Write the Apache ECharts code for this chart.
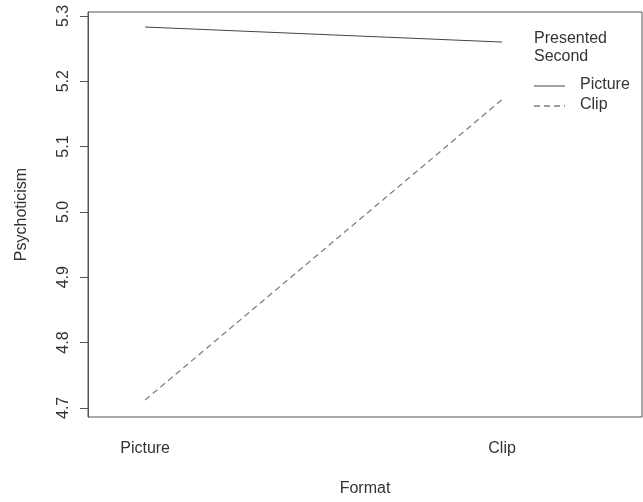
<!DOCTYPE html>
<html>
<head>
<meta charset="utf-8">
<script src="https://cdn.jsdelivr.net/npm/echarts@6/dist/echarts.min.js"></script>
<style>html,body{margin:0;padding:0;background:#fff}#c{width:643px;height:502px}</style>
</head>
<body>
<div id="c"></div>
<script>
const categories = ['Picture', 'Clip'];
const seriesNames = ['Picture', 'Clip'];
const legendTitle = 'Presented\nSecond';
const picturePresentedSecond = [5.283, 5.260];
const clipPresentedSecond = [4.712, 5.172];
const yTicks = [4.7, 4.8, 4.9, 5.0, 5.1, 5.2, 5.3];

const chart = echarts.init(document.getElementById('c'));
const font = 'Liberation Sans, Arial, sans-serif';
const toPairs = vals => vals.map((v, i) => [i + 1, v]);
const lineStyles = [
  {color: '#444', width: 1, type: 'solid'},
  {color: '#808080', width: 1.3, type: [6, 4]}
];
const legendGraphics = [
  {type: 'text', left: 534, top: 30, style: {text: legendTitle, font: '16px ' + font, fill: '#333', lineHeight: 18}}
];
seriesNames.forEach((n, i) => {
  const y = 86 + i * 20;
  legendGraphics.push({type: 'line', shape: {x1: 534, y1: y, x2: 565, y2: y}, style: {stroke: lineStyles[i].color, lineWidth: lineStyles[i].width, lineDash: Array.isArray(lineStyles[i].type) ? lineStyles[i].type : null}});
  legendGraphics.push({type: 'text', left: 580, top: y - 9, style: {text: n, font: '16px ' + font, fill: '#333'}});
});
chart.setOption({
  animation: false,
  textStyle: {fontFamily: font},
  grid: {left: 88, top: 12, right: 1, bottom: 85, show: true, borderColor: '#555', borderWidth: 1},
  graphic: legendGraphics,
  xAxis: {
    type: 'value', min: 0.84, max: 2.392,
    name: 'Format', nameLocation: 'middle', nameGap: 64,
    nameTextStyle: {fontSize: 16, color: '#333'},
    axisLine: {show: false}, axisTick: {show: false}, splitLine: {show: false},
    axisLabel: {customValues: [1, 2], formatter: v => categories[Math.round(v) - 1], fontSize: 16, color: '#333', margin: 24}
  },
  yAxis: {
    type: 'value', min: 4.686, max: 5.306,
    name: 'Psychoticism', nameLocation: 'middle', nameGap: 58,
    nameTextStyle: {fontSize: 16, color: '#333'},
    axisLine: {show: true, lineStyle: {color: '#555'}},
    axisTick: {show: true, customValues: yTicks, length: 8, lineStyle: {color: '#555'}},
    splitLine: {show: false},
    axisLabel: {customValues: yTicks, formatter: v => v.toFixed(1), rotate: 90, fontSize: 16, color: '#333', margin: 16}
  },
  series: [
    {name: seriesNames[0], type: 'line', data: toPairs(picturePresentedSecond), showSymbol: false, symbol: 'none', lineStyle: lineStyles[0]},
    {name: seriesNames[1], type: 'line', data: toPairs(clipPresentedSecond), showSymbol: false, symbol: 'none', lineStyle: lineStyles[1]}
  ]
});
</script>
</body>
</html>
